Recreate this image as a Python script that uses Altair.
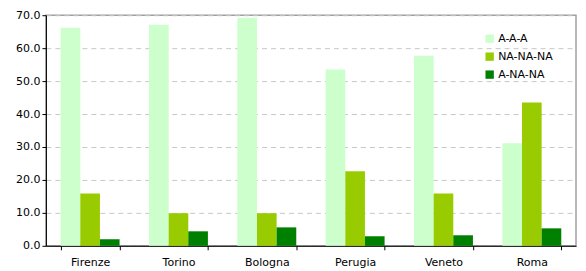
import altair as alt
import pandas as pd

cities = ["Firenze", "Torino", "Bologna", "Perugia", "Veneto", "Roma"]
series = ["A-A-A", "NA-NA-NA", "A-NA-NA"]
aaa = [66.2, 67.1, 69.2, 53.5, 57.7, 31.1]
nanana = [15.9, 9.9, 9.9, 22.6, 15.9, 43.5]
anana = [2.0, 4.4, 5.6, 2.9, 3.2, 5.3]
colors = ["#CCFFCC", "#99CC00", "#008000"]

rows = []
for i, c in enumerate(cities):
    for s, vals in zip(series, [aaa, nanana, anana]):
        rows.append({"city": c, "series": s, "value": vals[i]})
df = pd.DataFrame(rows)

font = "DejaVu Sans"

chart = alt.Chart(df).mark_bar().encode(
    x=alt.X("city:N", sort=cities, title=None,
            scale=alt.Scale(paddingInner=0.333, paddingOuter=0.1667),
            axis=alt.Axis(labelAngle=0, tickBand="extent", domainColor="#000000",
                          tickColor="#000000", tickSize=4, labelPadding=7,
                          labelFont=font, labelFontSize=11, labelColor="#000000",
                          grid=False)),
    xOffset=alt.XOffset("series:N", sort=series),
    y=alt.Y("value:Q", title=None,
            scale=alt.Scale(domain=[0, 70], nice=False),
            axis=alt.Axis(values=[0, 10, 20, 30, 40, 50, 60, 70], format=".1f",
                          domainColor="#000000", tickColor="#000000", tickSize=4,
                          labelPadding=2, labelFont=font, labelFontSize=11,
                          labelColor="#000000", gridColor="#c8c8c8",
                          gridDash=[5, 4], gridWidth=1)),
    color=alt.Color("series:N", sort=series,
                    scale=alt.Scale(domain=series, range=colors),
                    legend=alt.Legend(title=None, orient="none", legendX=439, legendY=18,
                                      symbolType="square", symbolSize=70,
                                      symbolStrokeWidth=0, labelFont=font,
                                      labelFontSize=11, labelColor="#000000",
                                      rowPadding=6, labelOffset=3)),
).properties(
    width=531, height=231,
    autosize=alt.AutoSizeParams(type="none"),
    padding={"left": 38, "top": 7, "right": 2, "bottom": 24},
).configure_view(
    stroke="#a0a0a0", strokeWidth=1.5
)

chart.save("out.html", embed_options={"renderer": "svg", "actions": False})
